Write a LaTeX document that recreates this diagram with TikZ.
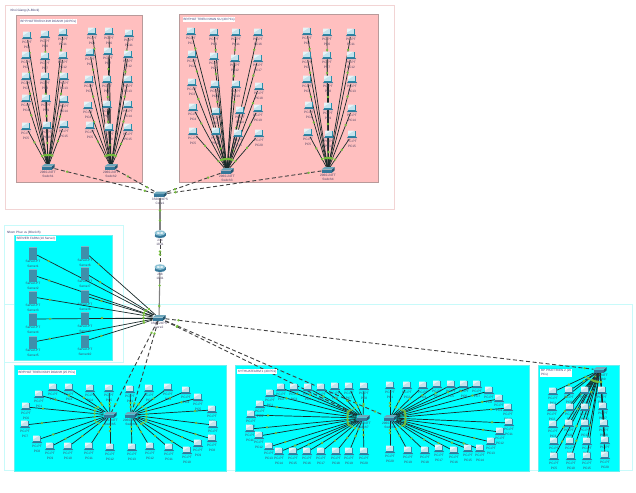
\documentclass[tikz,border=0pt]{standalone}
\usepackage{fontspec}
\setmainfont{Liberation Sans}
\usetikzlibrary{decorations.markings,shapes.geometric}
\pgfdeclarelayer{regions}
\pgfdeclarelayer{conn}
\pgfsetlayers{regions,conn,main}
\definecolor{lnk}{HTML}{74BE3C}
\definecolor{tealD}{HTML}{2A8CA8}
\definecolor{tealL}{HTML}{C4E2EC}
\definecolor{tealW}{HTML}{E6F4F7}
\definecolor{swT}{HTML}{6FA8BC}
\definecolor{swF}{HTML}{35789A}
\definecolor{swD}{HTML}{245670}
\definecolor{srv}{HTML}{3F8FAB}
\definecolor{srvL}{HTML}{7CB4C8}
\definecolor{rtr}{HTML}{8FC4D6}
\definecolor{wire}{HTML}{1A2A2A}
\definecolor{trunkc}{HTML}{404040}
\definecolor{greyc}{HTML}{808080}
\definecolor{labc}{HTML}{4A4060}
\definecolor{titc}{HTML}{3A3A70}
\definecolor{pinkF}{HTML}{FFBFBF}
\definecolor{pinkD}{HTML}{B89A9A}
\definecolor{pinkO}{HTML}{F2D4D4}
\definecolor{cyanF}{HTML}{00FFFF}
\definecolor{cyanD}{HTML}{66F0F0}
\definecolor{cyanO}{HTML}{C8FAFA}
\tikzset{
  x=1pt,y=-1pt,
  cable/.style={draw=wire,line width=.7pt,postaction={decorate,decoration={markings,
     mark=at position 13pt with {\fill[lnk] (0,0) circle (1.3pt);},
     mark=at position -9pt with {\fill[lnk] (0,0) circle (1.3pt);}}}},
  trunk/.style={cable,draw=trunkc,line width=.9pt,dash pattern=on 4pt off 2.6pt},
  solidlink/.style={cable,draw=greyc,line width=1.1pt},
  icon/.style={inner sep=0pt,minimum width=8pt,minimum height=8pt,outer sep=0pt},
  lab/.style={font=\fontsize{3.2}{4.2}\selectfont,text=labc,align=center,inner sep=0pt},
  title/.style={font=\fontsize{3.1}{3.8}\selectfont,text=titc,fill=white,inner sep=.8pt,align=left,anchor=west},
  outerA/.style={draw=pinkO,line width=.9pt},
  outerB/.style={draw=cyanO,line width=.9pt},
  pinkbox/.style={fill=pinkF,draw=pinkD,line width=.9pt},
  cyanbox/.style={fill=cyanF,draw=cyanD,line width=.4pt},
}
\newcommand{\pcat}[4]{%
  \node[icon] (#1) at (#2,#3) {};
  \begin{scope}[shift={(#2,#3)}]
    \fill[tealD] (-4,-4.4) rectangle (4.4,1.8);
    \fill[tealL] (-4,-4.4) rectangle (3.3,1);
    \fill[tealW] (-4,-4.4) -- (2.2,-4.4) -- (-4,-.5) -- cycle;
    \fill[swF] (-5.2,3.2) -- (5.2,3.2) -- (4.4,1.9) -- (-4.2,1.9) -- cycle;
  \end{scope}
  \node[lab] (#1t) at (#2,#3+8.8) {PC-PT\\#4};
}
\newcommand{\pcgroup}[3]{%
  \foreach \px/\py [count=\idx] in {#3} {%
    \pcat{#1\idx}{\px}{\py}{PC\idx}
    \begin{pgfonlayer}{conn}\draw[cable] (#1\idx) -- (#2);\end{pgfonlayer}
  }%
}
\newcommand{\swat}[5]{% name x y line1 line2
  \node[icon,minimum width=13pt,minimum height=6pt] (#1) at (#2,#3) {};
  \begin{scope}[shift={(#2,#3)}]
    \fill[swF] (-6.5,-.5) rectangle (3.8,2.8);
    \fill[swD] (3.8,-.5) -- (6.5,-2.8) -- (6.5,.4) -- (3.8,2.8) -- cycle;
    \fill[swT] (-6.5,-.5) -- (-3.6,-2.8) -- (6.5,-2.8) -- (3.8,-.5) -- cycle;
  \end{scope}
  \node[lab] (#1t) at (#2,#3+7.2) {#4\\#5};
}
\newcommand{\rtat}[4]{%
  \node[icon,minimum width=11pt,minimum height=9pt] (#1) at (#2,#3) {};
  \begin{scope}[shift={(#2,#3)}]
    \fill[swF] (-5.5,-1) rectangle (5.5,2);
    \fill[swF] (0,2) ellipse (5.5 and 2);
    \fill[rtr] (0,-1) ellipse (5.5 and 2.8);
    \draw[white,line width=.45pt] (-3,-1.8) -- (3,-.2) (-3,-.2) -- (3,-1.8);
  \end{scope}
  \node[lab] (#1t) at (#2,#3+8.4) {#3\\#4};
}
\newcommand{\srvat}[4]{%
  \node[icon,minimum width=8pt,minimum height=13pt] (#1) at (#2,#3) {};
  \begin{scope}[shift={(#2,#3)}]
    \fill[srv] (-3.8,-6.5) rectangle (3.8,6.5);
    \fill[srvL] (-3.8,-6.5) rectangle (3.8,-5.3);
  \end{scope}
  \node[lab] (#1t) at (#2,#3+10.8) {Server-PT\\#4};
}
\begin{document}
\begin{tikzpicture}
\useasboundingbox (0,0) rectangle (636,492);
% regions
\begin{pgfonlayer}{regions}
  \fill[white] (0,0) rectangle (636,492);
  \draw[outerA,fill=white] (5,5) rectangle (394.5,209);
  \draw[outerB] (4.5,225) rectangle (123,362);
  \draw[outerB] (4.5,304.5) rectangle (632,470);
  \filldraw[pinkbox] (16,15.5) rectangle (142.5,182);
  \filldraw[pinkbox] (179.5,14) rectangle (378,182);
  \filldraw[cyanbox] (14,235) rectangle (112,360);
  \filldraw[cyanbox] (14,365) rectangle (226,471);
  \filldraw[cyanbox] (235,365) rectangle (529,471);
  \filldraw[cyanbox] (538,365) rectangle (619,471);
\end{pgfonlayer}
% titles
\node[title,fill=none] (t0) at (9.5,10.5) {Khoi Giang (A-Block)};
\node[title] (t1) at (19.5,21.5) {BP PHATTRIEN KINH DOANH (40 PCs)};
\node[title] (t2) at (182.5,19.5) {BP/PHAT TRIEN NHAN SU (40 PCs)};
\node[title,fill=none] (t3) at (6,233) {Nhom Phuc vu (Block B)};
\node[title] (t4) at (15.5,238.5) {SERVER FARM (10 Server)};
\node[title] (t5) at (17.5,372.5) {BP/PHAT TRIEN KINH DOANH (25 PCs)};
\node[title] (t6) at (237,371.5) {KYTHUATFARM 1 (40 PCs)};
\node[title] (t7) at (540,373) {BP PHATTRIEN 2 (20\\PCs)};
% switches and routers
\swat{swa}{48}{167}{2960-24TT}{Switch1}
\swat{swb}{111}{167}{2960-24TT}{Switch2}
\swat{swc}{227}{171}{2960-24TT}{Switch3}
\swat{swd}{328}{170}{2960-24TT}{Switch4}
\swat{core}{160}{194.5}{3560-24PS}{Core1}
\rtat{ra}{160}{234}{1841}{Router0}
\rtat{rb}{160}{268}{1841}{Router1}
\swat{main}{159}{318}{3560-24PS}{Core2}
\swat{swe}{110}{415}{2960-24TT}{Switch5}
\swat{swf}{131}{415}{2960-24TT}{Switch6}
\swat{swg}{363}{418}{2960-24TT}{Switch7}
\swat{swh}{390}{418}{2960-24TT}{Switch8}
\swat{swi}{600}{370}{2960-24TT}{Switch9}
% trunk links
\begin{pgfonlayer}{conn}
  \foreach \s in {swa,swb,swc,swd} {\draw[trunk] (\s) -- (core);}
  \draw[solidlink] (core) -- (ra);
  \draw[trunk] (ra) -- (rb);
  \draw[solidlink] (rb) -- (main);
  \foreach \s in {swe,swf,swg,swh,swi} {\draw[trunk] (main) -- (\s);}
\end{pgfonlayer}
% PC groups
\pcgroup{a}{swa}{27/36,26/56,26/77,26/99,26/127,45/35,45/57,45/77,46/99,47/126,63/33,63/56,64/77,64/100,64/125}
\pcgroup{b}{swb}{92/32,90/53,89/80,88/106,90/126,109/32,108/52,107/80,107/105,109/128,129/34,128/55,128/80,128/105,128/128}
\pcgroup{c}{swc}{191/32,192/55,192/83,193/108,193/132,214/33,214/57,215/85,216/112,216/132,236/33,235/59,236/85,240/111,238/134,258/33,258/59,259/87,258/109,259/134}
\pcgroup{d}{swd}{307/32,307/56,307/80,309/106,308/133,327/33,327/56,328/80,328/107,329/135,351/33,351/56,352/80,352/109,352/135}
\pcgroup{e}{swe}{39/395,53/388,69/388,90/389,109/389,26/407,25/425,37/440,50/447,68/447,89/447,110/448}
\pcgroup{f}{swf}{130/390,149/389,168/388,186/391,198/398,212/410,213/425,212/439,198/444,187/451,169/448,150/447,132/448}
\pcgroup{g}{swg}{270/394,281/388,294/388,308/388,321/388,335/387,349/387,364/387,260/405,251/415,250/429,259/436,269/447,279/452,293/452,307/452,321/452,336/452,349/452,364/452}
\pcgroup{h}{swh}{390/386,407/386,423/386,437/385,451/385,464/385,477/385,489/391,499/399,508/408,509/423,500/432,491/442,480/449,468/449,454/451,439/449,425/451,408/451,390/450}
\pcgroup{i}{swi}{553/392,552/408,553/425,554/442,554/457,569/391,570/408,569/424,570/442,571/457,585/391,585/408,585/424,587/442,587/457,602/391,603/407,604/424,605/441,605/456}
% servers
\foreach \px/\py [count=\idx] in {33/253,33/275,33/297,33/319,33/342,85/252,85/273,85/296,85/318,85/341} {%
  \srvat{s\idx}{\px}{\py}{Server\idx}
  \begin{pgfonlayer}{conn}\draw[cable] (s\idx) -- (main);\end{pgfonlayer}
}
\end{tikzpicture}
\end{document}
